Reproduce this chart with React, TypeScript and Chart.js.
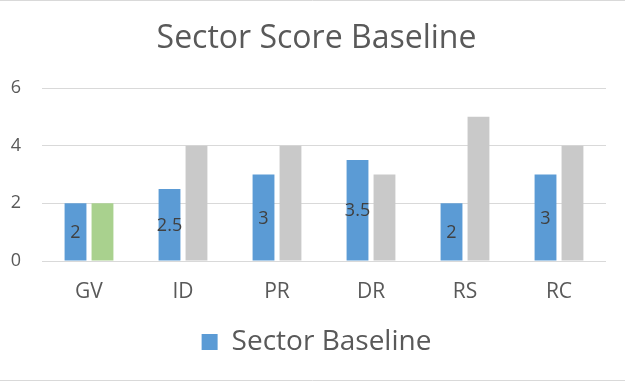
import React, { useEffect, useRef } from "react";
import { Chart, registerables } from "chart.js";

Chart.register(...registerables);

const categories = ["GV", "ID", "PR", "DR", "RS", "RC"];
const sectorBaseline = [2, 2.5, 3, 3.5, 2, 3];
const comparison = [2, 4, 4, 3, 5, 4];
const comparisonColors = ["#a9d18e", "#c9c9c9", "#c9c9c9", "#c9c9c9", "#c9c9c9", "#c9c9c9"];
const yTicks = [0, 2, 4, 6];

const FONT = "'Open Sans', 'Liberation Sans', sans-serif";
const TEXT = "#595959";

const borderPlugin = {
  id: "outerBorder",
  beforeDraw(chart: any) {
    const { ctx, width } = chart;
    ctx.save();
    ctx.strokeStyle = "#d9d9d9";
    ctx.lineWidth = 1;
    ctx.beginPath();
    ctx.moveTo(0, 0.5);
    ctx.lineTo(width, 0.5);
    ctx.moveTo(0, 380.5);
    ctx.lineTo(width, 380.5);
    ctx.stroke();
    ctx.restore();
  },
};

const labelPlugin = {
  id: "barLabels",
  afterDatasetsDraw(chart: any) {
    const { ctx } = chart;
    const meta = chart.getDatasetMeta(0);
    ctx.save();
    ctx.font = `18px ${FONT}`;
    ctx.fillStyle = "#404040";
    ctx.textAlign = "center";
    ctx.textBaseline = "middle";
    meta.data.forEach((bar: any, i: number) => {
      const { x, y, base } = bar.getProps(["x", "y", "base"], true);
      ctx.fillText(String(sectorBaseline[i]), x, (y + base) / 2 + 1);
    });
    ctx.restore();
  },
};

export default function App() {
  const ref = useRef<HTMLCanvasElement | null>(null);
  useEffect(() => {
    if (!ref.current) return;
    const chart = new Chart(ref.current, {
      type: "bar",
      data: {
        labels: categories,
        datasets: [
          {
            label: "Sector Baseline",
            data: sectorBaseline,
            backgroundColor: "#5b9bd5",
            borderWidth: 0,
            categoryPercentage: 0.574,
            barPercentage: 0.81,
          },
          {
            label: "Comparison",
            data: comparison,
            backgroundColor: comparisonColors,
            borderWidth: 0,
            categoryPercentage: 0.574,
            barPercentage: 0.81,
          },
        ],
      },
      options: {
        animation: false,
        responsive: true,
        maintainAspectRatio: false,
        layout: { padding: { left: 8, right: 0, top: 0, bottom: 16 } },
        plugins: {
          tooltip: { enabled: false },
          title: {
            display: true,
            text: "Sector Score Baseline",
            color: TEXT,
            font: { family: FONT, size: 32, weight: "normal" },
            padding: { top: 20, bottom: 29.6 },
          },
          legend: {
            position: "bottom",
            labels: {
              color: TEXT,
              font: { family: FONT, size: 28 },
              boxWidth: 16,
              boxHeight: 16,
              filter: (item: any) => item.datasetIndex === 0,
            },
          },
        },
        scales: {
          x: {
            grid: { display: false, drawTicks: false },
            border: { display: false },
            ticks: { color: TEXT, font: { family: FONT, size: 21 }, padding: 18 },
            afterFit: (s: any) => {
              s.height = 57;
            },
          },
          y: {
            min: 0,
            max: 6,
            afterBuildTicks: (s: any) => {
              s.ticks = yTicks.map((v) => ({ value: v }));
            },
            grid: { color: "#d9d9d9", lineWidth: 1, drawTicks: false },
            border: { display: false },
            ticks: { color: TEXT, font: { family: FONT, size: 18 }, padding: 21 },
            afterFit: (s: any) => {
              s.width = 34;
            },
          },
          yRight: {
            position: "right",
            min: 0,
            max: 6,
            grid: { display: false, drawTicks: false },
            border: { display: false },
            ticks: { display: false },
            afterFit: (s: any) => {
              s.width = 19;
            },
          },
        },
      },
      plugins: [borderPlugin, labelPlugin],
    });
    return () => chart.destroy();
  }, []);
  return (
    <div style={{ position: "absolute", left: 0, top: 0, width: 625, height: 382, background: "#fff" }}>
      <canvas ref={ref} />
    </div>
  );
}
